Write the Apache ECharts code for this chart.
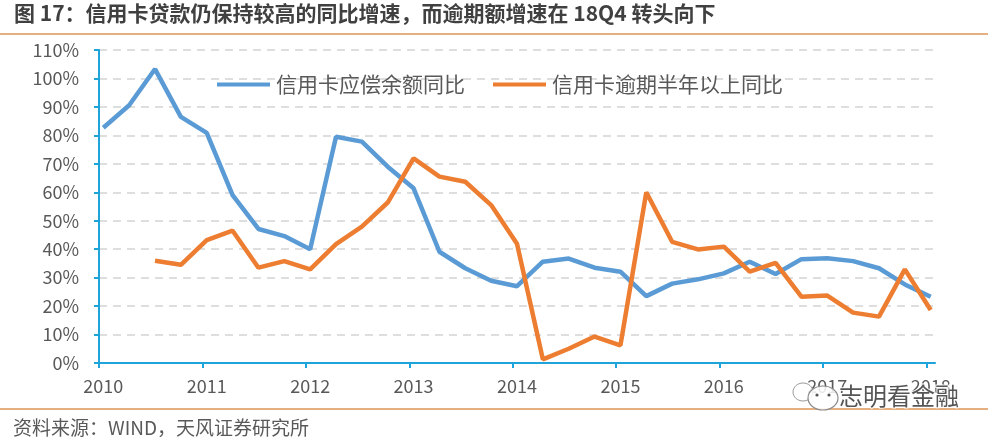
<!DOCTYPE html>
<html>
<head>
<meta charset="utf-8">
<script src="https://cdn.jsdelivr.net/npm/echarts@6/dist/echarts.min.js"></script>
<style>
html,body{margin:0;padding:0;background:#fff;}
#chart{width:991px;height:441px;}
</style>
</head>
<body>
<div id="chart"></div>
<script>
// Quarterly observation dates (year-month)
const dates = ['2010-01','2010-04','2010-07','2010-10','2011-01','2011-04','2011-07','2011-10',
  '2012-01','2012-04','2012-07','2012-10','2013-01','2013-04','2013-07','2013-10',
  '2014-01','2014-04','2014-07','2014-10','2015-01','2015-04','2015-07','2015-10',
  '2016-01','2016-04','2016-07','2016-10','2017-01','2017-04','2017-07','2017-10','2018-01'];
// 信用卡应偿余额同比 (%)
const balanceYoY = [82.7, 90.6, 103.3, 86.5, 80.9, 59.0, 47.1, 44.6, 40.0, 79.5, 77.8, 69.0, 61.4, 39.1, 33.3, 28.9,
  27.0, 35.6, 36.7, 33.5, 32.1, 23.5, 27.9, 29.4, 31.5, 35.6, 31.3, 36.5, 36.8, 35.8, 33.3, 27.6, 23.3];
// 信用卡逾期半年以上同比 (%)
const overdueYoY = [null, null, 35.9, 34.5, 43.2, 46.5, 33.5, 35.8, 32.9, 41.8, 47.9, 56.4, 71.9, 65.5, 63.7, 55.5,
  41.9, 1.3, 5.0, 9.3, 6.2, 60.0, 42.6, 39.9, 40.9, 32.1, 35.2, 23.3, 23.7, 17.7, 16.3, 32.9, 18.6];
const seriesNames = ['信用卡应偿余额同比', '信用卡逾期半年以上同比'];
const yearTicks = [2010, 2011, 2012, 2013, 2014, 2015, 2016, 2017, 2018];
const titleText = '图 17：信用卡贷款仍保持较高的同比增速，而逾期额增速在 18Q4 转头向下';
const sourceText = '资料来源：WIND，天风证券研究所';
const watermarkText = '志明看金融';

// Date -> fractional year, placed at middle of the month (like a monthly date axis)
function toX(d) {
  const [y, m] = d.split('-').map(Number);
  return y + (m - 1) / 12 + 1 / 24;
}
const blueData = dates.map((d, i) => [toX(d), balanceYoY[i]]);
const orangeData = dates.map((d, i) => [toX(d), overdueYoY[i]]);

const axisBlue = '#1EA3DB';
const labelColor = '#595959';
const font = '"Noto Sans CJK SC", "Noto Sans", sans-serif';

const chart = echarts.init(document.getElementById('chart'), null, {renderer: 'canvas'});
chart.setOption({
  animation: false,
  backgroundColor: '#fff',
  grid: {left: 99, right: 56, top: 50, bottom: 78, containLabel: false},
  legend: {
    left: 212, top: 69,
    icon: 'rect', itemWidth: 53, itemHeight: 4, itemGap: 28,
    textStyle: {fontSize: 21, color: labelColor, fontFamily: font, padding: [0, 0, 0, 1]},
    data: seriesNames
  },
  xAxis: {
    type: 'value', min: 2010, max: 2018 + 1 / 12,
    axisLine: {show: true, onZero: false, lineStyle: {color: axisBlue, width: 2}},
    axisTick: {show: true, length: 5, lineStyle: {color: axisBlue, width: 2}, customValues: yearTicks},
    axisLabel: {
      fontSize: 18, color: labelColor, fontFamily: font, margin: 14,
      customValues: yearTicks.map(y => y + 1 / 24),
      formatter: v => String(Math.floor(v))
    },
    splitLine: {show: false}
  },
  yAxis: {
    type: 'value', min: 0, max: 110, interval: 10,
    axisLine: {show: true, lineStyle: {color: axisBlue, width: 2}},
    axisTick: {show: true, length: 5, lineStyle: {color: axisBlue, width: 2}},
    axisLabel: {fontSize: 18, color: labelColor, fontFamily: font, margin: 20, formatter: '{value}%'},
    splitLine: {show: true, lineStyle: {color: '#D3D3D3', width: 1.5, type: [8, 6]}}
  },
  series: [
    {name: seriesNames[0], type: 'line', data: blueData, showSymbol: false, symbol: 'none',
     lineStyle: {color: '#5B9BD5', width: 4.5}, itemStyle: {color: '#5B9BD5'}, z: 3},
    {name: seriesNames[1], type: 'line', data: orangeData, showSymbol: false, symbol: 'none',
     lineStyle: {color: '#ED7D31', width: 4.5}, itemStyle: {color: '#ED7D31'}, z: 4}
  ],
  graphic: [
    {type: 'text', left: 14, top: 3, z: 10,
     style: {text: titleText, fontSize: 21, fontWeight: 'bold', fill: '#404040', fontFamily: font}},
    {type: 'line', z: 10, shape: {x1: 0, y1: 34, x2: 988, y2: 34}, style: {stroke: '#DE9456', lineWidth: 1.5}},
    {type: 'line', z: 10, shape: {x1: 0, y1: 409, x2: 988, y2: 409}, style: {stroke: '#DE9456', lineWidth: 1.5}},
    {type: 'text', left: 13, top: 418, z: 10,
     style: {text: sourceText, fontSize: 19, fill: '#595959', fontFamily: font}},
    // watermark
    {type: 'ellipse', z: 20, shape: {cx: 803, cy: 392, rx: 10, ry: 9},
     style: {fill: 'rgba(255,255,255,0.8)', stroke: '#9a9a9a', lineWidth: 1}},
    {type: 'ellipse', z: 21, shape: {cx: 823, cy: 398, rx: 15, ry: 12},
     style: {fill: 'rgba(255,255,255,0.85)', stroke: '#8a8a8a', lineWidth: 1.2}},
    {type: 'circle', z: 22, shape: {cx: 817, cy: 395, r: 1.6}, style: {fill: '#555'}},
    {type: 'circle', z: 22, shape: {cx: 829, cy: 395, r: 1.6}, style: {fill: '#555'}},
    {type: 'text', left: 838, top: 383, z: 21,
     style: {text: watermarkText, fontSize: 24, fill: '#555', stroke: 'rgba(255,255,255,0.9)', lineWidth: 2, fontFamily: font}}
  ]
});
</script>
</body>
</html>
